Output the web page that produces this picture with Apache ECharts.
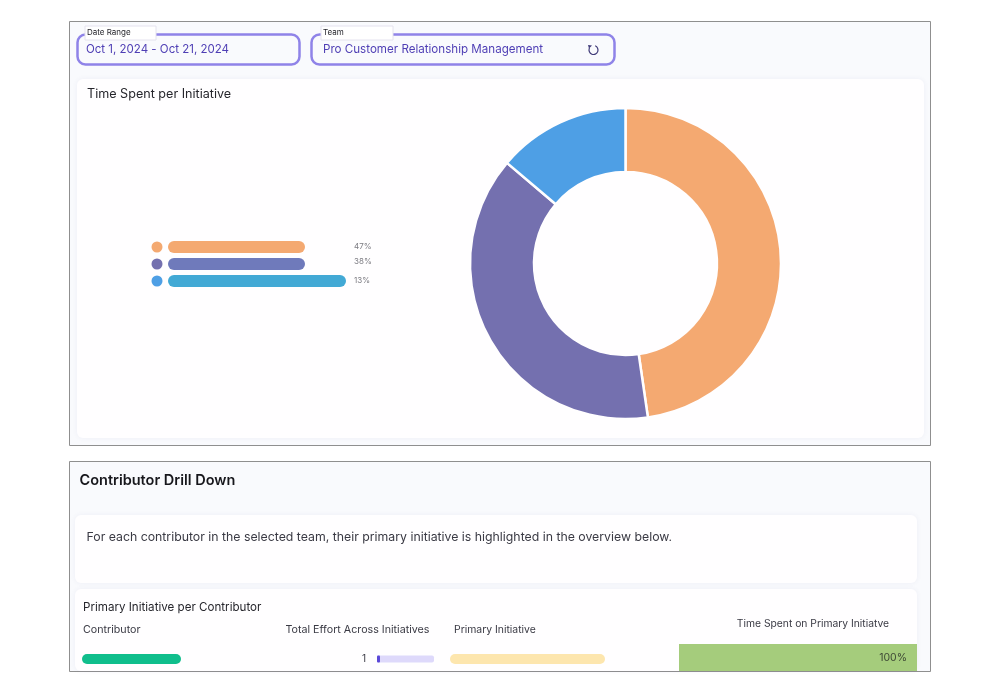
<!DOCTYPE html>
<html>
<head>
<meta charset="utf-8">
<title>Time Spent per Initiative</title>
<script src="https://cdn.jsdelivr.net/npm/echarts@6/dist/echarts.min.js"></script>
<style>
	html, body { margin: 0; padding: 0; background: #fff; }
	#chart { width: 1000px; height: 688px; }
</style>
</head>
<body>
<div id="chart"></div>
<script>
// time spent per initiative, read from the donut
var sliceValues = [47.7, 38.5, 13.8];
var sliceColors = ['#F4A971', '#7470AF', '#4E9FE5'];

// legend: the names are blurred in the source, so only their length is known
var legendLengths = [137, 137, 178];
var legendLabels = ['47%', '38%', '13%'];
var legendColors = ['#F4A971', '#6F7ABB', '#42A9D5'];
var legendKeys = ['a', 'b', 'c'];

// contributor row
var contributorLength = [99];
var totalEffort = [1];
var effortMax = 19;
var primaryLength = [155];
var primaryShare = [100];

var font = 'Inter';
var ink = '#26262C';
var purple = '#4F3FB5';

var myChart = echarts.init(document.getElementById('chart'));

function panel(x, y, w, h, fill, stroke) {
	return {
		type: 'rect', z: 0,
		shape: { x: x, y: y, width: w, height: h },
		style: { fill: fill, stroke: stroke, lineWidth: 1 }
	};
}
function card(x, y, w, h) {
	return {
		type: 'rect', z: 1,
		shape: { x: x, y: y, width: w, height: h, r: 6 },
		style: { fill: '#FFFEFF', shadowBlur: 5, shadowColor: 'rgba(90,80,160,0.07)' }
	};
}
function filterBox(x, w) {
	return {
		type: 'rect', z: 2,
		shape: { x: x, y: 34.5, width: w, height: 30, r: 8 },
		style: { fill: 'transparent', stroke: '#8F83E8', lineWidth: 2.5 }
	};
}
function tag(x, w, text) {
	return [{
		type: 'rect', z: 3,
		shape: { x: x, y: 26, width: w, height: 14 },
		style: { fill: '#fff', stroke: '#E4E2EE', lineWidth: 1 }
	}, label(x + 2, 33, text, 8, ink)];
}
function label(x, y, text, size, color, weight, align) {
	return {
		type: 'text', z: 4, x: x, y: y,
		style: {
			text: text, fill: color, align: align || 'left', verticalAlign: 'middle',
			font: (weight || 400) + ' ' + size + 'px ' + font
		}
	};
}

var graphics = [
	panel(69.5, 21.5, 861, 424, '#F9FAFD', '#8F8F8F'),
	panel(69.5, 461.5, 861, 210, '#F9FAFD', '#8F8F8F'),
	card(77, 79, 847, 359),
	card(75, 515, 842, 68),
	card(75, 589, 842, 82),
	filterBox(77.5, 222),
	filterBox(311.5, 303),
	label(86, 49.5, 'Oct 1, 2024 - Oct 21, 2024', 11.5, purple),
	label(323, 49.5, 'Pro Customer Relationship Management', 11.6, purple),
	{
		type: 'arc', z: 4,
		shape: { cx: 593.5, cy: 50, r: 4.5, startAngle: -1.2, endAngle: 3.6 },
		style: { fill: 'none', stroke: '#3F3A78', lineWidth: 1.2 }
	},
	{
		type: 'polygon', z: 4,
		shape: { points: [[588, 45], [592, 45.5], [589, 48.5]] },
		style: { fill: '#3F3A78' }
	},
	label(87, 94.5, 'Time Spent per Initiative', 12.6, ink),
	label(79.5, 481, 'Contributor Drill Down', 14.5, '#17171C', 600),
	label(86.5, 537.5, 'For each contributor in the selected team, their primary initiative is highlighted in the overview below.', 12.3, '#3A3A44'),
	label(83, 607.5, 'Primary Initiative per Contributor', 11.6, ink),
	label(83, 630, 'Contributor', 10.7, '#3A3A44'),
	label(285.5, 630, 'Total Effort Across Initiatives', 10.7, '#3A3A44'),
	label(454, 630, 'Primary Initiative', 10.4, '#3A3A44'),
	label(813, 624, 'Time Spent on Primary Initiatve', 10.3, '#3A3A44', 400, 'center'),
	label(366, 658.5, '1', 10, '#3A3A44', 400, 'right')
].concat(tag(85, 71, 'Date Range'), tag(321, 72, 'Team'));

function hiddenValue(gridIndex, min, max) {
	return { type: 'value', gridIndex: gridIndex, min: min, max: max, show: false };
}
function hiddenCategory(gridIndex, data) {
	return { type: 'category', gridIndex: gridIndex, data: data, inverse: true, show: false };
}
function rowBar(gridIndex, data, color, width, radius, extra) {
	var s = {
		type: 'bar', xAxisIndex: gridIndex, yAxisIndex: gridIndex, z: 5,
		data: data, barWidth: width, silent: true,
		itemStyle: { color: color, borderRadius: radius }
	};
	for (var k in extra) s[k] = extra[k];
	return s;
}

var option = {
	animation: false,
	graphic: graphics,
	grid: [
		{ left: 150, top: 238.5, width: 232, height: 51 },
		{ left: 82, top: 654, width: 99, height: 10 },
		{ left: 377, top: 654, width: 57, height: 10 },
		{ left: 450, top: 654, width: 155, height: 10 },
		{ left: 679, top: 644, width: 238, height: 27 }
	],
	xAxis: [
		hiddenValue(0, -18, 214),
		hiddenValue(1, 0, 99),
		hiddenValue(2, 0, effortMax),
		hiddenValue(3, 0, 155),
		hiddenValue(4, 0, 100)
	],
	yAxis: [
		hiddenCategory(0, legendKeys),
		hiddenCategory(1, ['row']),
		hiddenCategory(2, ['row']),
		hiddenCategory(3, ['row']),
		hiddenCategory(4, ['row'])
	],
	series: [
		{
			type: 'pie',
			z: 5,
			center: [625.5, 263.5],
			radius: [91.5, 155.5],
			startAngle: 90,
			silent: true,
			label: { show: false },
			labelLine: { show: false },
			itemStyle: { borderColor: '#FFFEFF', borderWidth: 2.5 },
			data: sliceValues.map(function(v, i) {
				return { value: v, itemStyle: { color: sliceColors[i] } };
			})
		},
		{
			type: 'bar', xAxisIndex: 0, yAxisIndex: 0, z: 5,
			barWidth: 12, silent: true,
			data: legendLengths.map(function(v, i) {
				return { value: v, itemStyle: { color: legendColors[i], borderRadius: 6 } };
			})
		},
		{
			type: 'scatter', xAxisIndex: 0, yAxisIndex: 0, z: 5,
			symbolSize: 11, silent: true,
			data: legendKeys.map(function(k, i) {
				return { value: [-11, k], itemStyle: { color: sliceColors[i], opacity: 1 } };
			})
		},
		{
			type: 'scatter', xAxisIndex: 0, yAxisIndex: 0, z: 5,
			symbolSize: 0, silent: true,
			data: legendLabels.map(function(t, i) {
				return {
					value: [186, legendKeys[i]],
					label: {
						show: true, position: 'right', distance: 0,
						formatter: t, fontFamily: font, fontSize: 8, color: '#5A5A62',
						offset: [0, i === 1 ? -2 : 0]
					}
				};
			})
		},
		rowBar(1, contributorLength, '#10BE8C', 10, 5),
		rowBar(2, totalEffort, '#5B48D8', 7, 1, {
			showBackground: true,
			backgroundStyle: { color: '#DED9FB', borderRadius: 2 }
		}),
		rowBar(3, primaryLength, '#FDE6AE', 10, 5),
		rowBar(4, primaryShare, '#A5CC7C', 27, 0, {
			label: {
				show: true, position: 'insideRight', distance: 10,
				formatter: '{c}%', fontFamily: font, fontSize: 10.5, color: '#3F4A36'
			}
		})
	]
};

myChart.setOption(option);
</script>
</body>
</html>
